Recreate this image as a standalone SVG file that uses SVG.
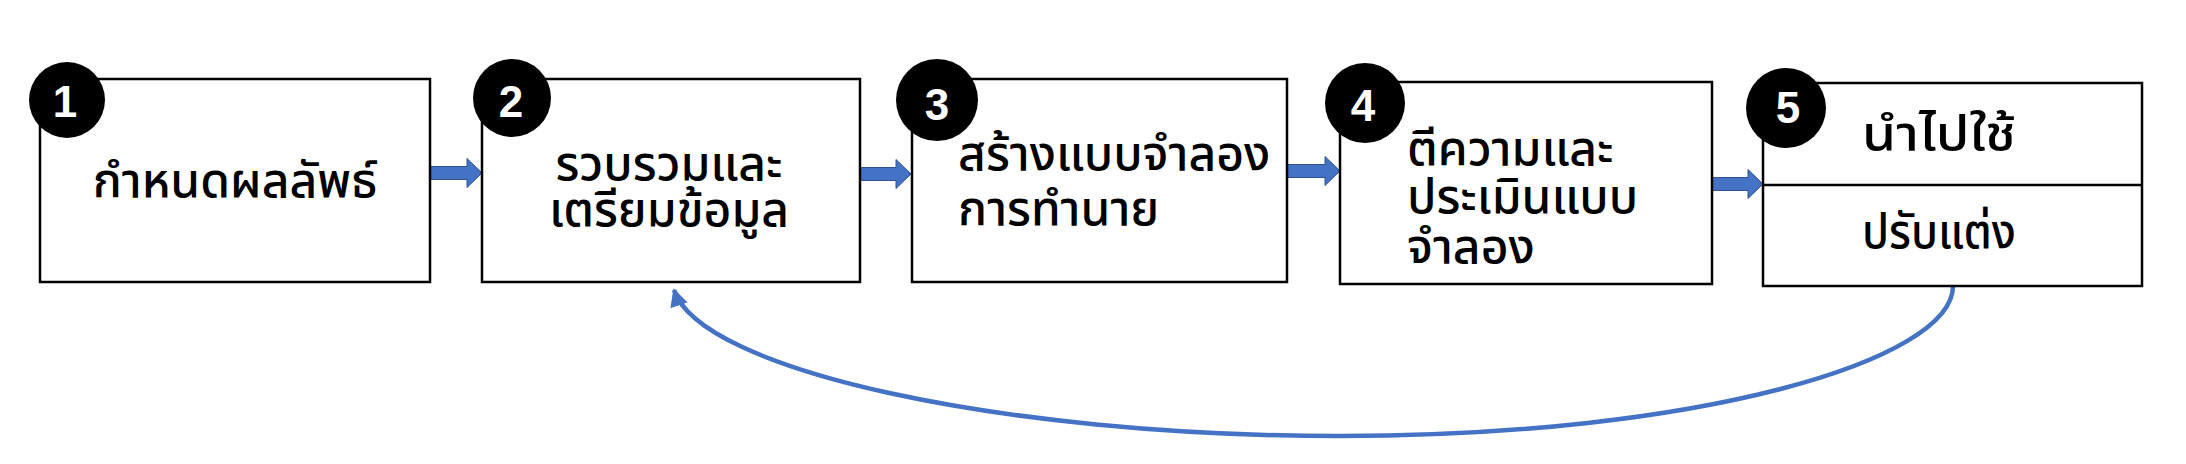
<svg xmlns="http://www.w3.org/2000/svg" width="2186" height="464" viewBox="0 0 2186 464">
<style>
.box{fill:#fff;stroke:#000;stroke-width:2.5}
.badge{fill:#000}
.num{font-family:"Liberation Sans","DejaVu Sans",sans-serif;font-weight:bold;font-size:44px;fill:#fff;text-anchor:middle}
.lbl{font-family:"Leelawadee UI","Noto Sans Thai","Noto Sans Thai UI","Tahoma","Noto Sans",sans-serif;font-size:48px;font-weight:500;fill:#000}
.mid{text-anchor:middle}
.blk{fill:#4472C4;stroke:#2F528F;stroke-width:1}
.loop{fill:none;stroke:#4472C4;stroke-width:4.5}
</style>
<defs>
<marker id="ah" viewBox="0 0 10 10" refX="9" refY="5" markerWidth="4" markerHeight="4" orient="auto" markerUnits="strokeWidth">
<path d="M0,0 L10,5 L0,10 Z" fill="#4472C4"/>
</marker>
</defs>
<rect width="2186" height="464" fill="#fff"/>
<g id="connectors">
<path class="blk" d="M430,166.5 H467 V158.5 L482,173 L467,187.5 V179.5 H430 Z"/>
<path class="blk" d="M860,167.5 H896 V159.5 L911,174 L896,188.5 V180.5 H860 Z"/>
<path class="blk" d="M1287,164.5 H1325 V156.5 L1340,171 L1325,185.5 V177.5 H1287 Z"/>
<path class="blk" d="M1712,177.5 H1748 V169.5 L1763,184 L1748,198.5 V190.5 H1712 Z"/>
<path class="loop" marker-end="url(#ah)" d="M1953,286 C1953,360 1700,436 1340,436 C1000,436 700,370 674,290"/>
</g>
<g id="node1">
<rect class="box" x="40" y="79" width="390" height="203"/>
<circle class="badge" cx="67" cy="100" r="38"/>
<text class="num" x="65" y="117">1</text>
<text class="lbl mid" x="235" y="197">กำหนดผลลัพธ์</text>
</g>
<g id="node2">
<rect class="box" x="482" y="79" width="378" height="203"/>
<circle class="badge" cx="512" cy="98" r="39"/>
<text class="num" x="511" y="117">2</text>
<text class="lbl mid" x="669" y="180">รวบรวมและ</text>
<text class="lbl mid" x="669" y="226">เตรียมข้อมูล</text>
</g>
<g id="node3">
<rect class="box" x="912" y="79" width="375" height="203"/>
<circle class="badge" cx="937" cy="100" r="41"/>
<text class="num" x="937" y="120">3</text>
<text class="lbl" x="958" y="170">สร้างแบบจำลอง</text>
<text class="lbl" x="958" y="225">การทำนาย</text>
</g>
<g id="node4">
<rect class="box" x="1340" y="82" width="372" height="202"/>
<circle class="badge" cx="1365" cy="103" r="40"/>
<text class="num" x="1363" y="121">4</text>
<text class="lbl" x="1407" y="165">ตีความและ</text>
<text class="lbl" x="1407" y="213">ประเมินแบบ</text>
<text class="lbl" x="1407" y="263">จำลอง</text>
</g>
<g id="node5">
<rect class="box" x="1763" y="83" width="379" height="203"/>
<line x1="1763" y1="185" x2="2142" y2="185" stroke="#000" stroke-width="2.5"/>
<circle class="badge" cx="1786" cy="108" r="40"/>
<text class="num" x="1788" y="123">5</text>
<text class="lbl" x="1862" y="150" textLength="154" lengthAdjust="spacingAndGlyphs">นำไปใช้</text>
<text class="lbl" x="1862" y="248" textLength="154" lengthAdjust="spacingAndGlyphs">ปรับแต่ง</text>
</g>
</svg>
